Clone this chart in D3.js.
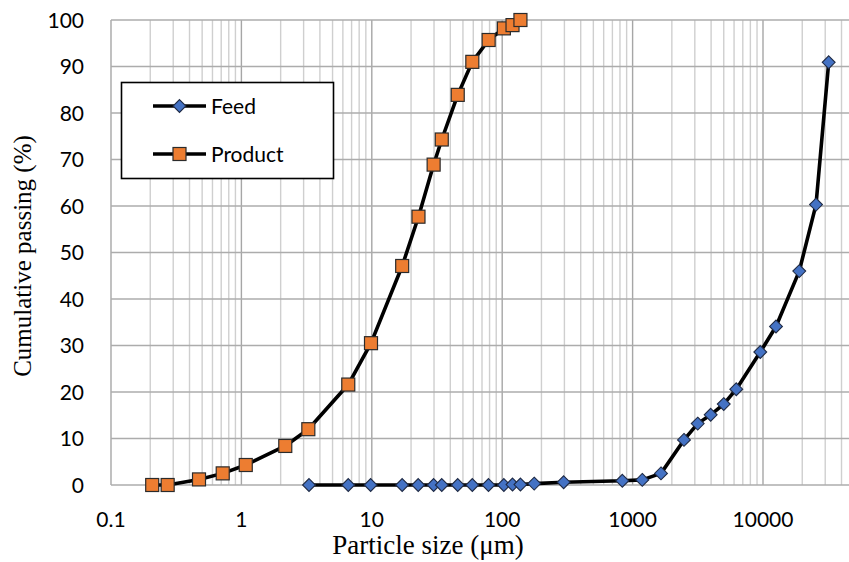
<!DOCTYPE html>
<html>
<head>
<meta charset="utf-8">
<script src="https://cdn.jsdelivr.net/npm/d3@7"></script>
<style>
  body { margin: 0; background: #fff; }
  svg { display: block; }
</style>
</head>
<body>
<div id="chart"></div>
<script>
// particle sizes (µm) and cumulative passing (%)
const feedSize = [3.3, 6.6, 9.8, 17.1, 22.7, 29.8, 34.4, 45.6, 59, 78.5, 103, 120, 138, 176, 296,
    834, 1186, 1651, 2478, 3157, 3970, 5000, 6240, 9530, 12580, 18970, 25500, 31900];
const feedPassing = [0, 0, 0, 0, 0, 0, 0, 0, 0, 0, 0, 0.1, 0.1, 0.3, 0.6,
    0.9, 1.1, 2.5, 9.7, 13.2, 15.1, 17.4, 20.6, 28.6, 34.1, 46.0, 60.3, 90.9];

const productSize = [0.207, 0.272, 0.473, 0.719, 1.08, 2.17, 3.26, 6.6, 9.86, 17.1, 22.8,
    29.8, 34.4, 45.6, 59, 78.7, 103, 120, 138];
const productPassing = [0, 0, 1.2, 2.5, 4.3, 8.4, 12.0, 21.6, 30.5, 47.1, 57.7,
    68.9, 74.3, 83.9, 91.0, 95.7, 98.2, 98.9, 100];

const xTicks = [0.1, 1, 10, 100, 1000, 10000];
const yTicks = [0, 10, 20, 30, 40, 50, 60, 70, 80, 90, 100];
const seriesNames = ["Feed", "Product"];

const W = 849, H = 562;
const margin = { top: 20, left: 111, bottom: 77 };
const decade = 130.4;

const svg = d3.select("#chart").append("svg")
    .attr("width", W)
    .attr("height", H);

const x = d3.scaleLog()
    .domain([0.1, 100000])
    .range([margin.left, margin.left + decade * 6]);
const y = d3.scaleLinear()
    .domain([0, 100])
    .range([H - margin.bottom, margin.top]);

const xMax = x.invert(W);
const plot = svg.append("g");

// minor vertical gridlines
let minor = [];
for (let p = -1; p < 5; p++) {
    for (let m = 2; m <= 9; m++) {
        let v = m * Math.pow(10, p);
        if (v < xMax) minor.push(v);
    }
}
plot.selectAll("line.minor")
    .data(minor)
    .enter().append("line")
    .attr("x1", d => x(d)).attr("x2", d => x(d))
    .attr("y1", y(0)).attr("y2", y(100))
    .style("stroke", "#cfcfcf")
    .style("stroke-width", 1.4);

// major vertical gridlines
plot.selectAll("line.major")
    .data(xTicks)
    .enter().append("line")
    .attr("x1", d => x(d)).attr("x2", d => x(d))
    .attr("y1", y(0)).attr("y2", y(100))
    .style("stroke", "#a6a6a6")
    .style("stroke-width", 1.4);

// horizontal gridlines
plot.selectAll("line.hgrid")
    .data(yTicks)
    .enter().append("line")
    .attr("x1", x(0.1)).attr("x2", W)
    .attr("y1", d => y(d)).attr("y2", d => y(d))
    .style("stroke", "#acacac")
    .style("stroke-width", 1.4);

// tick labels
svg.selectAll("text.ytick")
    .data(yTicks)
    .enter().append("text")
    .attr("x", 84)
    .attr("y", d => y(d))
    .attr("dy", "0.36em")
    .attr("text-anchor", "end")
    .style("font-family", "Lato, 'Open Sans', sans-serif")
    .style("font-size", "21px")
    .text(d => d);

svg.selectAll("text.xtick")
    .data(xTicks)
    .enter().append("text")
    .attr("x", d => x(d))
    .attr("y", 527)
    .attr("text-anchor", "middle")
    .style("font-family", "Lato, 'Open Sans', sans-serif")
    .style("font-size", "21px")
    .text(d => d);

// axis titles
svg.append("text")
    .attr("x", 428)
    .attr("y", 554)
    .attr("text-anchor", "middle")
    .style("font-family", "'Liberation Serif', 'Times New Roman', serif")
    .style("font-size", "27px")
    .text("Particle size (μm)");

svg.append("text")
    .attr("transform", "translate(31," + 256 + ") rotate(-90)")
    .attr("text-anchor", "middle")
    .style("font-family", "'Liberation Serif', 'Times New Roman', serif")
    .style("font-size", "25px")
    .text("Cumulative passing (%)");

const line = d3.line()
    .x(d => x(d[0]))
    .y(d => y(d[1]));

const feed = d3.zip(feedSize, feedPassing);
const product = d3.zip(productSize, productPassing);

const diamond = d3.symbol().type(d3.symbolDiamond2).size(105);

function drawSeries(data, marker) {
    plot.append("path")
        .datum(data)
        .attr("d", line)
        .style("fill", "none")
        .style("stroke", "#000")
        .style("stroke-width", 3.6)
        .style("stroke-linejoin", "round");
    if (marker == "diamond") {
        plot.selectAll(null)
            .data(data)
            .enter().append("path")
            .attr("d", diamond)
            .attr("transform", d => "translate(" + x(d[0]) + "," + y(d[1]) + ")")
            .style("fill", "#4472c4")
            .style("stroke", "#1f2a44")
            .style("stroke-width", 1.1);
    } else {
        plot.selectAll(null)
            .data(data)
            .enter().append("rect")
            .attr("x", d => x(d[0]) - 6.5)
            .attr("y", d => y(d[1]) - 6.5)
            .attr("width", 13)
            .attr("height", 13)
            .style("fill", "#ed7d31")
            .style("stroke", "#2b2b2b")
            .style("stroke-width", 1.2);
    }
}

drawSeries(feed, "diamond");
drawSeries(product, "square");

// legend
const legend = svg.append("g");
legend.append("rect")
    .attr("x", 121.5).attr("y", 82.5)
    .attr("width", 212).attr("height", 96)
    .style("fill", "#fff")
    .style("stroke", "#000")
    .style("stroke-width", 1.6);

seriesNames.forEach((name, i) => {
    let ly = 106 + i * 48;
    legend.append("line")
        .attr("x1", 153).attr("x2", 206)
        .attr("y1", ly).attr("y2", ly)
        .style("stroke", "#000")
        .style("stroke-width", 3.6);
    if (i == 0) {
        legend.append("path")
            .attr("d", diamond)
            .attr("transform", "translate(179.5," + ly + ")")
            .style("fill", "#4472c4")
            .style("stroke", "#1f2a44")
            .style("stroke-width", 1.1);
    } else {
        legend.append("rect")
            .attr("x", 173).attr("y", ly - 6.5)
            .attr("width", 13).attr("height", 13)
            .style("fill", "#ed7d31")
            .style("stroke", "#2b2b2b")
            .style("stroke-width", 1.2);
    }
    legend.append("text")
        .attr("x", 211)
        .attr("y", ly)
        .attr("dy", "0.36em")
        .style("font-family", "Lato, 'Open Sans', sans-serif")
        .style("font-size", "21px")
        .text(name);
});
</script>
</body>
</html>
